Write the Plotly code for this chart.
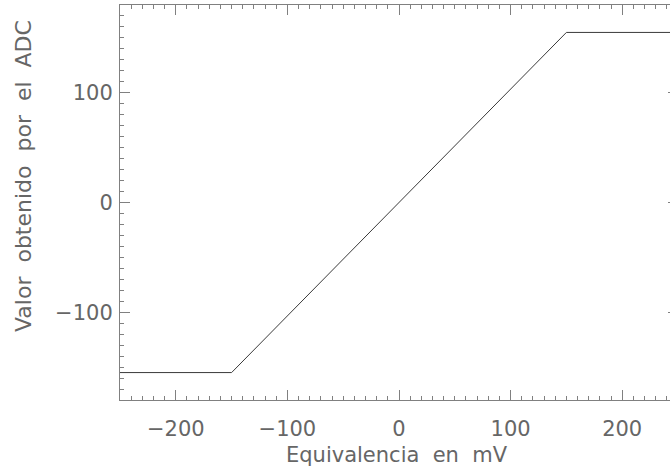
import plotly.graph_objects as go

# Data: ADC transfer curve (saturating at ±155)
x_mv = [-250, -150, 150, 250]
y_adc = [-155, -155, 155, 155]

x_ticks = [-200, -100, 0, 100, 200]
y_ticks = [-100, 0, 100]

x_title = "Equivalencia\u00a0\u00a0en\u00a0\u00a0mV"
y_title = "Valor\u00a0\u00a0obtenido\u00a0\u00a0por\u00a0\u00a0el\u00a0\u00a0ADC"

FAM = "DejaVu Sans, sans-serif"
TICKFONT = dict(family=FAM, size=21, color="#666666")
TITLEFONT = dict(family=FAM, size=21, color="#666666")

fig = go.Figure()
fig.add_trace(go.Scatter(x=x_mv, y=y_adc, mode="lines",
                         line=dict(color="#3a3a3a", width=1), showlegend=False))

axis_common = dict(
    showgrid=False, zeroline=False, showline=True, linecolor="#808080", linewidth=1,
    mirror="allticks", ticks="inside", ticklen=10, tickwidth=1, tickcolor="#808080",
    tickfont=TICKFONT,
    minor=dict(ticks="inside", ticklen=4, tickwidth=1, tickcolor="#808080", dtick=10),
)

fig.update_xaxes(range=[-250, 250], tickvals=x_ticks, ticklabelstandoff=10, **axis_common)
fig.update_yaxes(range=[-180, 180], tickvals=y_ticks, ticklabelstandoff=2, **axis_common)

fig.add_annotation(text=x_title, xref="paper", yref="paper", x=(397 - 120) / 558, y=-(455 - 400) / 395,
                   xanchor="center", yanchor="middle", showarrow=False, font=TITLEFONT)
fig.add_annotation(text=y_title, xref="paper", yref="paper", x=-(120 - 23) / 558, y=(400 - 176) / 395,
                   xanchor="center", yanchor="middle", textangle=-90, showarrow=False,
                   font=dict(family=FAM, size=22, color="#666666"))

fig.update_layout(width=680, height=470, margin=dict(l=120, r=2, t=5, b=70),
                  plot_bgcolor="white", paper_bgcolor="white")

fig.write_html("out.html", post_script="document.body.style.overflow='hidden';document.documentElement.style.overflow='hidden';")
